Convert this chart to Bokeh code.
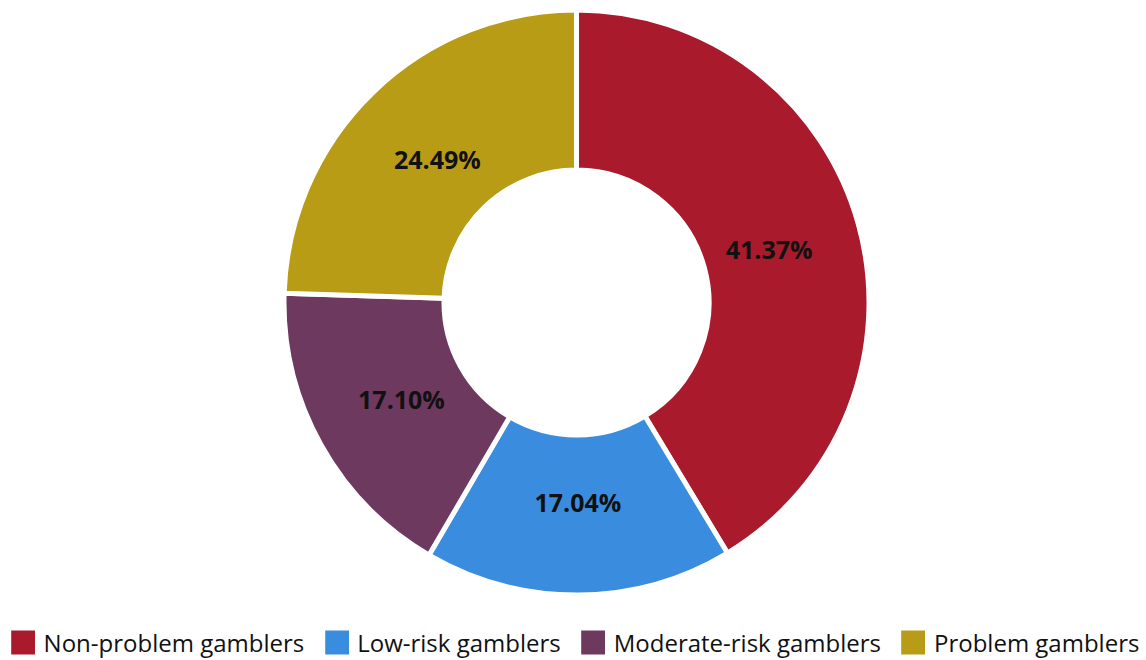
import numpy as np
from bokeh.plotting import figure
from bokeh.models import ColumnDataSource, Legend, LegendItem
from bokeh.core.properties import value
from bokeh.embed import file_html
from bokeh.resources import INLINE

categories = ["Non-problem gamblers", "Low-risk gamblers", "Moderate-risk gamblers", "Problem gamblers"]
shares = [41.37, 17.04, 17.10, 24.49]
colors = ["#A91A2D", "#3A8DDE", "#6E395E", "#B89C16"]

W, H = 1144, 660
p = figure(width=W, height=H, output_backend="svg", toolbar_location=None,
           x_range=(-576, 568), y_range=(-358, 302), min_border=0)
p.axis.visible = False
p.grid.visible = False
p.outline_line_color = None
p.background_fill_color = "white"

vals = np.array(shares)
frac = vals / vals.sum()
cum_end = np.cumsum(frac) * 2 * np.pi
cum_start = cum_end - frac * 2 * np.pi
start = np.pi / 2 - cum_end
end = np.pi / 2 - cum_start
mid = (cum_start + cum_end) / 2

src = ColumnDataSource(dict(lx=200 * np.sin(mid), ly=200 * np.cos(mid),
                            lab=[f"{v:.2f}%" for v in shares]))

items = []
for i, c in enumerate(categories):
    r = p.annular_wedge(x=0, y=0, inner_radius=132.5, outer_radius=292.5,
                        start_angle=start[i], end_angle=end[i],
                        fill_color=colors[i], line_color="white", line_width=5)
    items.append(LegendItem(label=c, renderers=[r]))

p.text(x="lx", y="ly", text="lab", source=src, text_align="center",
       text_baseline="middle", text_font=value("Open Sans"), text_font_size="25px",
       text_font_style="bold", text_color="#111111")

legend = Legend(items=items, orientation="horizontal", location="bottom_center",
                glyph_width=36, glyph_height=36, label_standoff=3, spacing=14,
                padding=0, margin=0, border_line_color=None, background_fill_alpha=0,
                label_text_font="Open Sans", label_text_font_size="24px",
                label_text_color="#111111", label_height=36)
p.add_layout(legend, "center")

open("out.html", "w").write(file_html(p, INLINE))
